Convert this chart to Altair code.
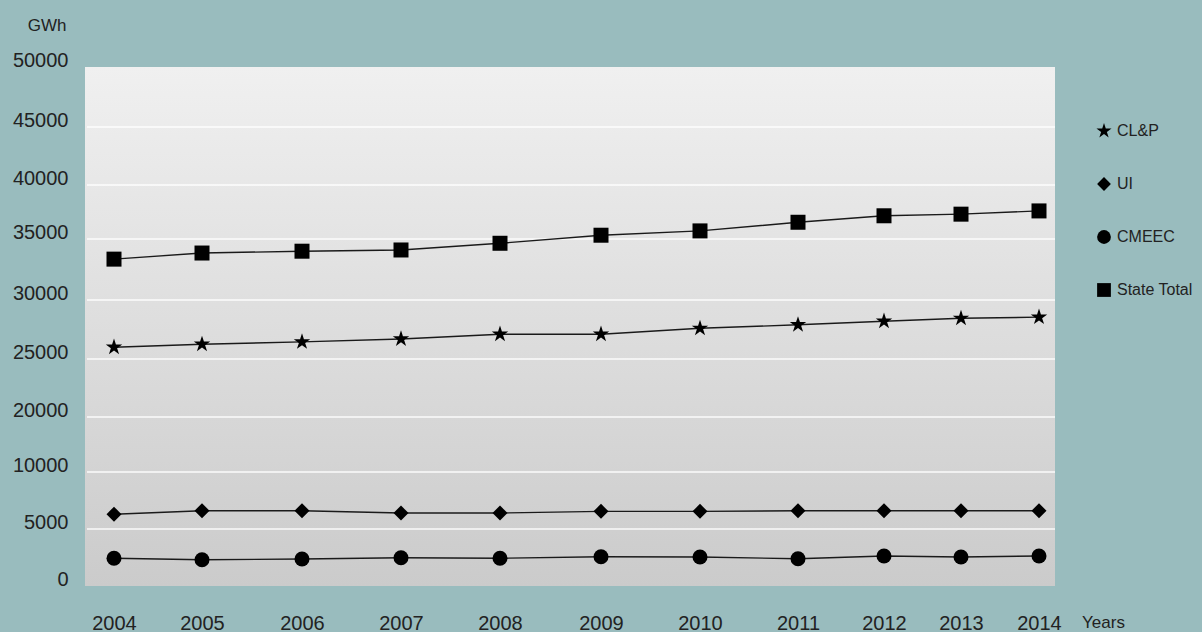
import altair as alt
import pandas as pd

# ---- data ----
years = [2004, 2005, 2006, 2007, 2008, 2009, 2010, 2011, 2012, 2013, 2014]
series_names = ["CL&P", "UI", "CMEEC", "State Total"]
clp = [26000, 26250, 26450, 26700, 27100, 27100, 27600, 27900, 28200, 28450, 28550]
ui = [6300, 6600, 6600, 6400, 6400, 6550, 6550, 6600, 6600, 6600, 6600]
cmeec = [2430, 2300, 2370, 2480, 2430, 2570, 2540, 2390, 2630, 2540, 2630]
state_total = [33350, 33850, 34000, 34100, 34650, 35350, 35750, 36550, 37150, 37300, 37600]
y_ticks = [0, 5000, 10000, 20000, 25000, 30000, 35000, 40000, 45000, 50000]
grid_values = [5000, 10000, 20000, 25000, 30000, 35000, 40000, 45000]

# ---- layout (pixels) ----
W, H = 970, 519
x_range = [29, 117, 217, 316, 415, 516, 615, 713, 799, 876, 954]
y_range = [519, 462, 405, 350, 292, 233, 172, 118, 60, 0]

rows = []
for name, vals in zip(series_names, [clp, ui, cmeec, state_total]):
    for yr, v in zip(years, vals):
        rows.append({"year": yr, "series": name, "gwh": v})
df = pd.DataFrame(rows)
grid_df = pd.DataFrame({"gwh": grid_values})

NARROW = "Liberation Sans Narrow, Arial Narrow, Liberation Sans, sans-serif"
REG = "Liberation Sans, Arial, sans-serif"
TXT = "#222222"

star = ("M0,-1.15L0.258,-0.355L1.094,-0.355L0.417,0.136L0.676,0.930L0,0.439"
        "L-0.676,0.930L-0.417,0.136L-1.094,-0.355L-0.258,-0.355Z")

xscale = alt.Scale(domain=years, range=x_range, nice=False, zero=False)
yscale = alt.Scale(domain=y_ticks, range=y_range, nice=False, zero=False)

y_axis = alt.Axis(values=y_ticks, format="d", title="GWh", titleAngle=0,
                  titleAlign="right", titleBaseline="middle", titleX=-19, titleY=-42,
                  titleFont=NARROW, titleFontSize=17, titleFontWeight="normal",
                  titleColor=TXT, labelFont=REG, labelFontSize=20, labelColor=TXT,
                  labelPadding=17, labelOffset=-7, domain=False, ticks=False,
                  grid=False, labelFlush=False, labelOverlap=False)
x_axis = alt.Axis(values=years, format="d", title="Years", titleX=1018, titleY=28,
                  titleAlign="center", titleBaseline="top", titleFont=NARROW,
                  titleFontSize=17, titleFontWeight="normal", titleColor=TXT,
                  labelFont=REG, labelFontSize=20, labelColor=TXT, labelPadding=27,
                  ticks=False, domain=False, grid=False, labelFlush=False,
                  labelOverlap=False)

Y = alt.Y("gwh:Q", scale=yscale, axis=y_axis)
X = alt.X("year:Q", scale=xscale, axis=x_axis)

bg = alt.Chart(pd.DataFrame({"a": [0]})).mark_rect(
    color=alt.Gradient(gradient="linear",
                       stops=[alt.GradientStop(color="#f0f0f0", offset=0),
                              alt.GradientStop(color="#cbcbcb", offset=1)],
                       x1=0, x2=0, y1=0, y2=1)
).encode(x=alt.value(0), x2=alt.value(W), y=alt.value(0), y2=alt.value(H))

grid = alt.Chart(grid_df).mark_rule(color="white", strokeWidth=1.6, opacity=0.9).encode(
    y=Y, x=alt.value(2), x2=alt.value(W))

lines = alt.Chart(df).mark_line(color="#1a1a1a", strokeWidth=1.4).encode(
    x=X, y=Y, detail="series:N")

points = alt.Chart(df).mark_point(filled=True, color="black", opacity=1, size=225).encode(
    x=X, y=Y,
    shape=alt.Shape("series:N",
                    scale=alt.Scale(domain=series_names,
                                    range=[star, "diamond", "circle", "square"]),
                    legend=alt.Legend(orient="none", legendX=1011, legendY=56,
                                      title=None, labelFont=NARROW, labelFontSize=16,
                                      labelColor=TXT, symbolSize=190,
                                      symbolFillColor="black", symbolStrokeColor="black",
                                      symbolStrokeWidth=0, symbolOpacity=1,
                                      rowPadding=37, labelOffset=5)),
)

chart = alt.layer(bg, grid, lines, points).properties(
    width=W, height=H,
    autosize=alt.AutoSizeParams(type="none"),
    padding={"left": 85, "top": 67, "right": 147, "bottom": 46},
    background="#99bcbe",
).configure_view(stroke=None)

chart.save("out.html", embed_options={"renderer": "svg", "actions": False})
